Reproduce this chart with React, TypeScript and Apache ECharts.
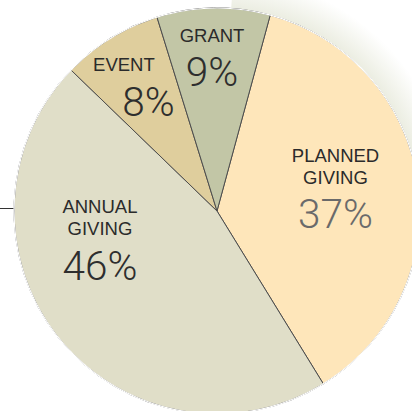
import React, { useEffect, useRef } from "react";
import * as echarts from "echarts";

const CATEGORIES = ["PLANNED GIVING", "ANNUAL GIVING", "EVENT", "GRANT"];
const VALUES = [37, 46, 8, 9];
const COLORS = ["#FEE6BA", "#E0DEC8", "#DFCE9D", "#C2C6A6"];

// label placement (style): polar angle (deg, ccw from +x) and distance from pie centre
const LABEL_ANGLE = [9.1, 195.7, 127.7, 91.9];
const LABEL_DIST = [120, 121.6, 152.2, 149.6];

const CX = 217;
const CY = 211;
const R = 203;

const NAME_STYLE = {
  fontFamily: "Liberation Sans",
  fontSize: 18.5,
  fontWeight: 400,
  color: "#2b2b2b",
  lineHeight: 22,
};
const PCT_STYLE = {
  fontFamily: "Roboto",
  fontSize: 40.5,
  fontWeight: 300,
  color: "#2e2e2e",
  lineHeight: 52,
};

export default function App() {
  const ref = useRef<HTMLDivElement>(null);
  useEffect(() => {
    if (!ref.current) return;
    const chart = echarts.init(ref.current, null, { renderer: "svg" });
    const total = VALUES.reduce((a, b) => a + b, 0);
    const OUT = R + 34;
    const haze = new echarts.graphic.RadialGradient(
      CX,
      CY,
      OUT,
      [
        { offset: 0, color: "rgba(185,192,150,0.30)" },
        { offset: (R - 2) / OUT, color: "rgba(185,192,150,0.30)" },
        { offset: 1, color: "rgba(185,192,150,0)" },
      ],
      true
    );
    chart.setOption({
      animation: false,
      backgroundColor: "#ffffff",
      graphic: [
        {
          type: "sector",
          shape: {
            cx: CX,
            cy: CY,
            r0: R - 4,
            r: OUT,
            startAngle: (-86 * Math.PI) / 180,
            endAngle: (-14 * Math.PI) / 180,
          },
          style: { fill: haze },
          z: -1,
        },
        {
          type: "line",
          shape: { x1: 0, y1: 208.5, x2: 14, y2: 208.5 },
          style: { stroke: "#333333", lineWidth: 1 },
          z: 0,
        },
      ],
      series: [
        {
          type: "pie",
          center: [CX, CY],
          radius: [0, R],
          startAngle: 74.8,
          clockwise: true,
          avoidLabelOverlap: false,
          emphasis: { disabled: true },
          itemStyle: { borderColor: "#4d4d4d", borderWidth: 1 },
          labelLine: { show: false },
          label: {
            show: true,
            position: "inside",
            formatter: (p: any) => {
              const pct = Math.round((p.value / total) * 100) + "%";
              const lines = String(p.name)
                .split(" ")
                .map((w: string) => "{n|" + w + "}")
                .join("\n");
              const key = p.dataIndex === 0 ? "pl" : p.dataIndex === 2 ? "pe" : "p";
              return lines + "\n{" + key + "|" + pct + "}";
            },
            rich: {
              n: NAME_STYLE,
              p: PCT_STYLE,
              pe: { ...PCT_STYLE, padding: [0, 0, 0, 49] },
              pl: { ...PCT_STYLE, color: "#6a6a6a" },
            },
          },
          labelLayout: (params: any) => {
            const i = params.dataIndex;
            const a = (LABEL_ANGLE[i] * Math.PI) / 180;
            return {
              x: CX + LABEL_DIST[i] * Math.cos(a),
              y: CY - LABEL_DIST[i] * Math.sin(a),
              align: "center",
              verticalAlign: "middle",
            };
          },
          data: CATEGORIES.map((name, i) => ({
            name,
            value: VALUES[i],
            itemStyle: { color: COLORS[i] },
          })),
          z: 2,
        },
        {
          type: "pie",
          center: [CX, CY],
          radius: [R - 0.6, R + 0.6],
          silent: true,
          label: { show: false },
          labelLine: { show: false },
          emphasis: { disabled: true },
          itemStyle: { color: "#ffffff", borderWidth: 0 },
          data: [{ name: "edge", value: 1 }],
          z: 3,
        },
      ],
    });
    return () => chart.dispose();
  }, []);
  return (
    <div
      ref={ref}
      style={{ position: "absolute", left: 0, top: 0, width: 412, height: 411 }}
    />
  );
}
